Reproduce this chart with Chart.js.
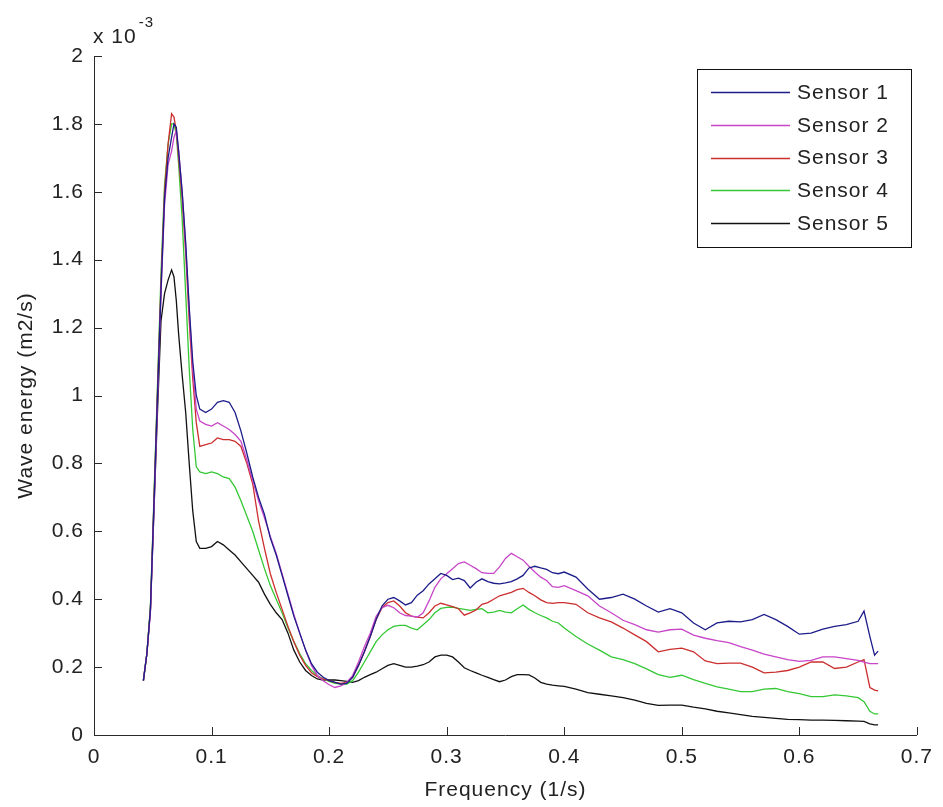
<!DOCTYPE html>
<html>
<head>
<meta charset="utf-8">
<script src="https://cdn.jsdelivr.net/npm/chart.js@4.4.1/dist/chart.umd.min.js"></script>
<style>
html,body{margin:0;padding:0;background:#fff;}
canvas{display:block;}
</style>
</head>
<body>
<canvas id="c" width="943" height="807"></canvas>
<script>
// Frequency (1/s)
const frequency = [
  0.042, 0.045, 0.048, 0.051, 0.054, 0.057, 0.060, 0.063, 0.066, 0.068, 0.070, 0.072, 0.075, 0.078, 0.081, 0.084, 0.087, 0.090,
  0.095, 0.100, 0.105, 0.110, 0.115, 0.120, 0.125, 0.130, 0.135, 0.140,
  0.145, 0.150, 0.155, 0.160, 0.165, 0.170, 0.175, 0.180, 0.185, 0.190,
  0.195, 0.200, 0.205, 0.210, 0.215, 0.220, 0.225, 0.230, 0.235, 0.240,
  0.245, 0.250, 0.255, 0.260, 0.265, 0.270, 0.275, 0.280, 0.285, 0.290,
  0.295, 0.300, 0.305, 0.310, 0.315, 0.320, 0.325, 0.330, 0.335, 0.340,
  0.345, 0.350, 0.355, 0.360, 0.365, 0.370, 0.375, 0.380, 0.385, 0.390,
  0.395, 0.400,
  0.41, 0.42, 0.43, 0.44, 0.45, 0.46, 0.47, 0.48, 0.49, 0.50,
  0.51, 0.52, 0.53, 0.54, 0.55, 0.56, 0.57, 0.58, 0.59, 0.60,
  0.61, 0.62, 0.63, 0.64, 0.65,
  0.655, 0.660, 0.664, 0.667
];

// Wave energy (x 10^-3 m2/s)
const sensor1 = [
  0.16, 0.24, 0.37, 0.68, 1.00, 1.31, 1.58, 1.70, 1.76, 1.80, 1.79, 1.72, 1.60, 1.45, 1.26, 1.10, 1.00, 0.96,
  0.95, 0.96, 0.98, 0.985, 0.98, 0.95, 0.895, 0.83, 0.76, 0.70,
  0.65, 0.58, 0.53, 0.47, 0.41, 0.35, 0.30, 0.25, 0.21, 0.185,
  0.17, 0.16, 0.155, 0.15, 0.152, 0.17, 0.205, 0.245, 0.29, 0.34,
  0.38, 0.40, 0.405, 0.395, 0.383, 0.39, 0.412, 0.425, 0.445, 0.46,
  0.476, 0.47, 0.458, 0.462, 0.455, 0.433, 0.45, 0.46, 0.452, 0.447,
  0.445, 0.448, 0.452, 0.46, 0.47, 0.492, 0.497, 0.492, 0.488, 0.478,
  0.475, 0.48,
  0.465, 0.43, 0.40, 0.405, 0.415, 0.40, 0.38, 0.362, 0.372, 0.36,
  0.33, 0.31, 0.33, 0.335, 0.333, 0.34, 0.355, 0.34, 0.32, 0.297,
  0.30, 0.312, 0.32, 0.325, 0.335,
  0.365, 0.29, 0.235, 0.247
];
const sensor2 = [
  0.16, 0.24, 0.36, 0.66, 0.98, 1.30, 1.56, 1.68, 1.72, 1.76, 1.78, 1.72, 1.60, 1.44, 1.25, 1.08, 0.96, 0.925,
  0.915, 0.91, 0.92, 0.91, 0.90, 0.885, 0.865, 0.81, 0.75, 0.69,
  0.64, 0.585, 0.535, 0.475, 0.415, 0.355, 0.30, 0.25, 0.205, 0.175,
  0.16, 0.148, 0.14, 0.145, 0.155, 0.175, 0.215, 0.26, 0.30, 0.35,
  0.375, 0.382, 0.375, 0.36, 0.352, 0.35, 0.347, 0.36, 0.395, 0.435,
  0.46, 0.475, 0.49, 0.505, 0.51, 0.50, 0.49, 0.478, 0.476, 0.476,
  0.495, 0.52, 0.535, 0.525, 0.515, 0.497, 0.48, 0.465, 0.455, 0.437,
  0.435, 0.44,
  0.425, 0.41, 0.38, 0.36, 0.338, 0.325, 0.31, 0.303, 0.31, 0.312,
  0.294, 0.285, 0.278, 0.272, 0.26, 0.25, 0.238, 0.23, 0.222, 0.217,
  0.22, 0.23, 0.23, 0.225, 0.22,
  0.215, 0.21, 0.21, 0.21
];
const sensor3 = [
  0.16, 0.24, 0.37, 0.69, 1.01, 1.33, 1.60, 1.74, 1.83, 1.82, 1.78, 1.70, 1.58, 1.42, 1.22, 1.05, 0.92, 0.85,
  0.855, 0.86, 0.875, 0.87, 0.87, 0.865, 0.85, 0.80, 0.74, 0.63,
  0.55, 0.475, 0.42, 0.37, 0.32, 0.275, 0.235, 0.205, 0.183, 0.172,
  0.165, 0.16, 0.155, 0.152, 0.155, 0.17, 0.205, 0.245, 0.29, 0.34,
  0.375, 0.39, 0.395, 0.38, 0.36, 0.35, 0.347, 0.345, 0.36, 0.38,
  0.388, 0.383, 0.378, 0.372, 0.353, 0.36, 0.368, 0.385, 0.39, 0.40,
  0.41, 0.415, 0.42, 0.428, 0.432, 0.42, 0.41, 0.398, 0.39, 0.388,
  0.39, 0.39,
  0.385, 0.36, 0.345, 0.333, 0.315, 0.295, 0.275, 0.245, 0.252, 0.256,
  0.245, 0.218, 0.21, 0.212, 0.212, 0.20, 0.183, 0.185, 0.19, 0.20,
  0.215, 0.215, 0.196, 0.20, 0.215,
  0.222, 0.14, 0.132, 0.13
];
const sensor4 = [
  0.16, 0.24, 0.38, 0.70, 1.03, 1.36, 1.62, 1.74, 1.80, 1.80, 1.77, 1.68, 1.52, 1.30, 1.08, 0.90, 0.79, 0.775,
  0.77, 0.775, 0.77, 0.76, 0.755, 0.73, 0.69, 0.645, 0.60, 0.545,
  0.49, 0.44, 0.40, 0.36, 0.315, 0.275, 0.24, 0.21, 0.19, 0.175,
  0.165, 0.158, 0.152, 0.15, 0.15, 0.16, 0.185, 0.215, 0.245, 0.275,
  0.295, 0.31, 0.32, 0.323, 0.323, 0.315, 0.31, 0.325, 0.34, 0.36,
  0.373, 0.376, 0.377, 0.373, 0.37, 0.367, 0.37, 0.372, 0.36, 0.362,
  0.367, 0.362, 0.36, 0.372, 0.383, 0.37, 0.36, 0.352, 0.345, 0.335,
  0.33, 0.315,
  0.29, 0.268, 0.25, 0.23, 0.222, 0.21, 0.195, 0.178, 0.17, 0.176,
  0.163, 0.152, 0.142, 0.135, 0.128, 0.128, 0.135, 0.137, 0.128, 0.122,
  0.113, 0.113, 0.118, 0.115, 0.11,
  0.098, 0.07, 0.062, 0.062
];
const sensor5 = [
  0.16, 0.24, 0.37, 0.66, 0.95, 1.22, 1.30, 1.34, 1.37, 1.35, 1.28, 1.18, 1.06, 0.95, 0.80, 0.66, 0.57, 0.55,
  0.55, 0.555, 0.57, 0.56, 0.545, 0.53, 0.51, 0.49, 0.47, 0.45,
  0.415, 0.385, 0.36, 0.34, 0.30, 0.25, 0.215, 0.19, 0.175, 0.165,
  0.162, 0.162, 0.162, 0.16, 0.158, 0.155, 0.16, 0.17, 0.178, 0.185,
  0.195, 0.205, 0.21, 0.205, 0.20, 0.20, 0.203, 0.207, 0.215, 0.23,
  0.235, 0.235, 0.23, 0.215, 0.198, 0.19, 0.183, 0.176, 0.17, 0.163,
  0.157, 0.162, 0.172, 0.178, 0.178, 0.177, 0.168, 0.155, 0.15, 0.147,
  0.145, 0.143,
  0.135, 0.125, 0.12, 0.115, 0.11, 0.103, 0.093, 0.087, 0.088, 0.088,
  0.082, 0.077, 0.07, 0.065, 0.06, 0.055, 0.052, 0.049, 0.046, 0.045,
  0.044, 0.044, 0.043, 0.042, 0.041,
  0.04, 0.033, 0.03, 0.03
];

const seriesLabels = ['Sensor 1', 'Sensor 2', 'Sensor 3', 'Sensor 4', 'Sensor 5'];
const seriesValues = [sensor1, sensor2, sensor3, sensor4, sensor5];
const seriesColors = ['#1c1c8a', '#c845c8', '#cc2e2e', '#35c835', '#111111'];
const xTickValues = [0, 0.1, 0.2, 0.3, 0.4, 0.5, 0.6, 0.7];
const yTickValues = [0, 0.2, 0.4, 0.6, 0.8, 1, 1.2, 1.4, 1.6, 1.8, 2];
const xTitle = 'Frequency (1/s)';
const yTitle = 'Wave energy (m2/s)';
const exponentBase = 'x 10';
const exponentPower = '-3';

const FONT = '"Liberation Sans", Arial, Helvetica, sans-serif';
const TEXT_COLOR = '#222222';
const AXIS_COLOR = '#2a2a2a';
const LETTER = '1px';

Chart.defaults.font.family = FONT;
Chart.defaults.font.size = 21;
Chart.defaults.color = TEXT_COLOR;

const datasets = seriesValues.map((vals, i) => ({
  label: seriesLabels[i],
  data: vals.map((v, j) => ({ x: frequency[j], y: v })),
  borderColor: seriesColors[i],
  backgroundColor: seriesColors[i],
  borderWidth: 1.3,
  pointRadius: 0,
  tension: 0,
  fill: false
}));

const decor = {
  id: 'decor',
  beforeUpdate(chart) { chart.ctx.letterSpacing = LETTER; },
  beforeDraw(chart) {
    const c = chart.ctx;
    c.save();
    c.fillStyle = '#ffffff';
    c.fillRect(0, 0, chart.width, chart.height);
    c.restore();
    c.letterSpacing = LETTER;
  },
  afterDraw(chart) {
    const { ctx, scales: { x, y }, chartArea: a } = chart;
    ctx.save();
    ctx.letterSpacing = LETTER;
    // inward tick marks
    ctx.strokeStyle = AXIS_COLOR;
    ctx.lineWidth = 1;
    ctx.beginPath();
    x.ticks.forEach(t => {
      const px = Math.round(x.getPixelForValue(t.value)) + 0.5;
      ctx.moveTo(px, a.bottom);
      ctx.lineTo(px, a.bottom - 8);
    });
    y.ticks.forEach(t => {
      const py = Math.round(y.getPixelForValue(t.value)) + 0.5;
      ctx.moveTo(a.left, py);
      ctx.lineTo(a.left + 8, py);
    });
    ctx.stroke();

    // exponent label
    ctx.fillStyle = TEXT_COLOR;
    ctx.textAlign = 'left';
    ctx.textBaseline = 'alphabetic';
    ctx.font = '21px ' + FONT;
    ctx.fillText(exponentBase, a.left - 1, 43);
    const w = ctx.measureText(exponentBase).width;
    ctx.font = '15px ' + FONT;
    ctx.fillText(exponentPower, a.left - 1 + w + 2, 27);

    // legend box
    const bx = 697.5, by = 69.5, bw = 214, bh = 178;
    ctx.fillStyle = '#ffffff';
    ctx.fillRect(bx, by, bw, bh);
    ctx.strokeStyle = '#111111';
    ctx.lineWidth = 1;
    ctx.strokeRect(bx, by, bw, bh);
    ctx.font = '21px ' + FONT;
    ctx.textBaseline = 'middle';
    chart.data.datasets.forEach((ds, i) => {
      const ry = 92 + i * 32.75;
      ctx.strokeStyle = ds.borderColor;
      ctx.lineWidth = 1.3;
      ctx.beginPath();
      ctx.moveTo(711, Math.round(ry) + 0.5);
      ctx.lineTo(790, Math.round(ry) + 0.5);
      ctx.stroke();
      ctx.fillStyle = TEXT_COLOR;
      ctx.fillText(ds.label, 797, ry + 1);
    });
    ctx.restore();
  }
};

new Chart(document.getElementById('c'), {
  type: 'line',
  data: { datasets },
  options: {
    responsive: false,
    animation: false,
    devicePixelRatio: 1,
    layout: { padding: { top: 56, right: 21, left: 0, bottom: 0 } },
    plugins: { legend: { display: false }, tooltip: { enabled: false } },
    scales: {
      x: {
        type: 'linear',
        min: 0, max: 0.7,
        afterBuildTicks: s => { s.ticks = xTickValues.map(v => ({ value: v })); },
        afterFit: s => { s.height = 72; },
        grid: { display: false, drawTicks: false },
        border: { display: true, color: AXIS_COLOR, width: 1 },
        ticks: { padding: 10, color: TEXT_COLOR, maxRotation: 0, autoSkip: false,
                 callback: v => String(+(+v).toFixed(1)) },
        title: { display: true, text: xTitle, color: TEXT_COLOR, padding: { top: 0, bottom: 4 } }
      },
      y: {
        type: 'linear',
        min: 0, max: 2,
        afterBuildTicks: s => { s.ticks = yTickValues.map(v => ({ value: v })); },
        afterFit: s => { s.width = 94; },
        grid: { display: false, drawTicks: false },
        border: { display: true, color: AXIS_COLOR, width: 1 },
        ticks: { padding: 10, color: TEXT_COLOR, autoSkip: false,
                 callback: v => String(+(+v).toFixed(1)) },
        title: { display: true, text: yTitle, color: TEXT_COLOR, padding: { top: 14, bottom: 0 } }
      }
    }
  },
  plugins: [decor]
});
</script>
</body>
</html>
